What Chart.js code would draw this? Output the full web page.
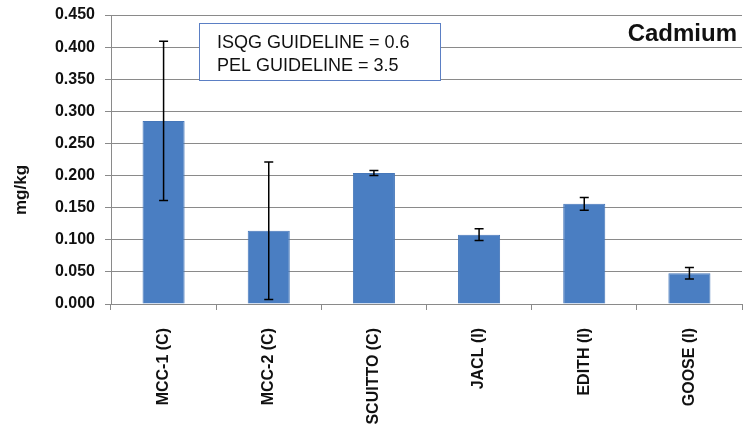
<!DOCTYPE html>
<html>
<head>
<meta charset="utf-8">
<script src="https://cdn.jsdelivr.net/npm/chart.js@4/dist/chart.umd.min.js"></script>
<style>
  html, body { margin: 0; padding: 0; background: #ffffff; }
  #wrap { width: 744px; height: 430px; position: relative; }
</style>
</head>
<body>
<div id="wrap"><canvas id="chart"></canvas></div>
<script>
// Sediment cadmium concentrations by site (mean ± standard deviation)
const sites = ['MCC-1 (C)', 'MCC-2 (C)', 'SCUITTO (C)', 'JACL (I)', 'EDITH (I)', 'GOOSE (I)'];
const cadmiumMean = [0.285, 0.114, 0.204, 0.108, 0.156, 0.048];
const cadmiumSD = [0.124, 0.107, 0.004, 0.009, 0.010, 0.009];
const yTicks = [0, 0.05, 0.1, 0.15, 0.2, 0.25, 0.3, 0.35, 0.4, 0.45];
const guidelineLines = ['ISQG GUIDELINE = 0.6', 'PEL GUIDELINE = 3.5'];
const metalName = 'Cadmium';
const yTitle = 'mg/kg';

const FONT = '"Liberation Sans", Arial, sans-serif';

// Draws error bars for each bar from the mean and SD arrays, via the y scale
const errorBars = {
  id: 'errorBars',
  afterDatasetsDraw(chart) {
    const { ctx, scales: { y } } = chart;
    const meta = chart.getDatasetMeta(0);
    ctx.save();
    ctx.strokeStyle = '#000000';
    ctx.lineWidth = 1.5;
    meta.data.forEach((bar, i) => {
      const x = bar.x;
      const top = y.getPixelForValue(cadmiumMean[i] + cadmiumSD[i]);
      const bot = y.getPixelForValue(cadmiumMean[i] - cadmiumSD[i]);
      const cap = 4.5;
      ctx.beginPath();
      ctx.moveTo(x, top); ctx.lineTo(x, bot);
      ctx.moveTo(x - cap, top); ctx.lineTo(x + cap, top);
      ctx.moveTo(x - cap, bot); ctx.lineTo(x + cap, bot);
      ctx.stroke();
    });
    ctx.restore();
  }
};

// Guideline text box, metal name and rotated axis title
const decorations = {
  id: 'decorations',
  afterDraw(chart) {
    const { ctx } = chart;
    ctx.save();
    // guideline box
    ctx.fillStyle = '#ffffff';
    ctx.fillRect(199.5, 23.5, 241, 57);
    ctx.strokeStyle = '#5b7fc4';
    ctx.lineWidth = 1;
    ctx.strokeRect(199.5, 23.5, 241, 57);
    ctx.fillStyle = '#111111';
    ctx.font = '18px ' + FONT;
    ctx.textAlign = 'left';
    ctx.textBaseline = 'alphabetic';
    ctx.fillText(guidelineLines[0], 217, 47.5);
    ctx.fillText(guidelineLines[1], 217, 70.5);
    // metal name
    ctx.font = 'bold 24px ' + FONT;
    ctx.textAlign = 'right';
    ctx.fillText(metalName, 737, 41);
    // y axis title
    ctx.translate(21, 190);
    ctx.rotate(-Math.PI / 2);
    ctx.font = 'bold 17px ' + FONT;
    ctx.textAlign = 'center';
    ctx.textBaseline = 'middle';
    ctx.fillText(yTitle, 0, 0);
    ctx.restore();
  }
};

new Chart(document.getElementById('chart'), {
  type: 'bar',
  data: {
    labels: sites,
    datasets: [{
      data: cadmiumMean,
      backgroundColor: '#4a7ec2',
      borderColor: '#4677b9',
      borderWidth: 1,
      barPercentage: 0.4,
      categoryPercentage: 1.0
    }]
  },
  options: {
    responsive: true,
    maintainAspectRatio: false,
    animation: false,
    devicePixelRatio: 1,
    layout: { padding: { top: 15, right: 2, left: 0, bottom: 0 } },
    plugins: {
      legend: { display: false },
      tooltip: { enabled: false },
      title: { display: false }
    },
    scales: {
      y: {
        min: 0,
        max: 0.45,
        afterFit(scale) {
          scale.width = 111;
          scale.paddingTop = 0;
          scale.paddingBottom = 0;
        },
        afterBuildTicks(scale) { scale.ticks = yTicks.map(v => ({ value: v })); },
        ticks: {
          color: '#111111',
          font: { family: FONT, size: 16, weight: 'bold' },
          padding: 10,
          callback: v => Number(v).toFixed(3)
        },
        grid: {
          color: '#8a8a8a',
          lineWidth: 1,
          tickLength: 6,
          drawTicks: true
        },
        border: { color: '#8a8a8a', width: 1 }
      },
      x: {
        afterFit(scale) { scale.height = 126; },
        ticks: {
          color: '#111111',
          font: { family: FONT, size: 16, weight: 'bold' },
          minRotation: 90,
          maxRotation: 90,
          padding: 18,
          autoSkip: false
        },
        grid: {
          display: true,
          drawOnChartArea: false,
          offset: true,
          color: '#8a8a8a',
          tickLength: 6
        },
        border: { color: '#8a8a8a', width: 1 }
      }
    }
  },
  plugins: [errorBars, decorations]
});
</script>
</body>
</html>
